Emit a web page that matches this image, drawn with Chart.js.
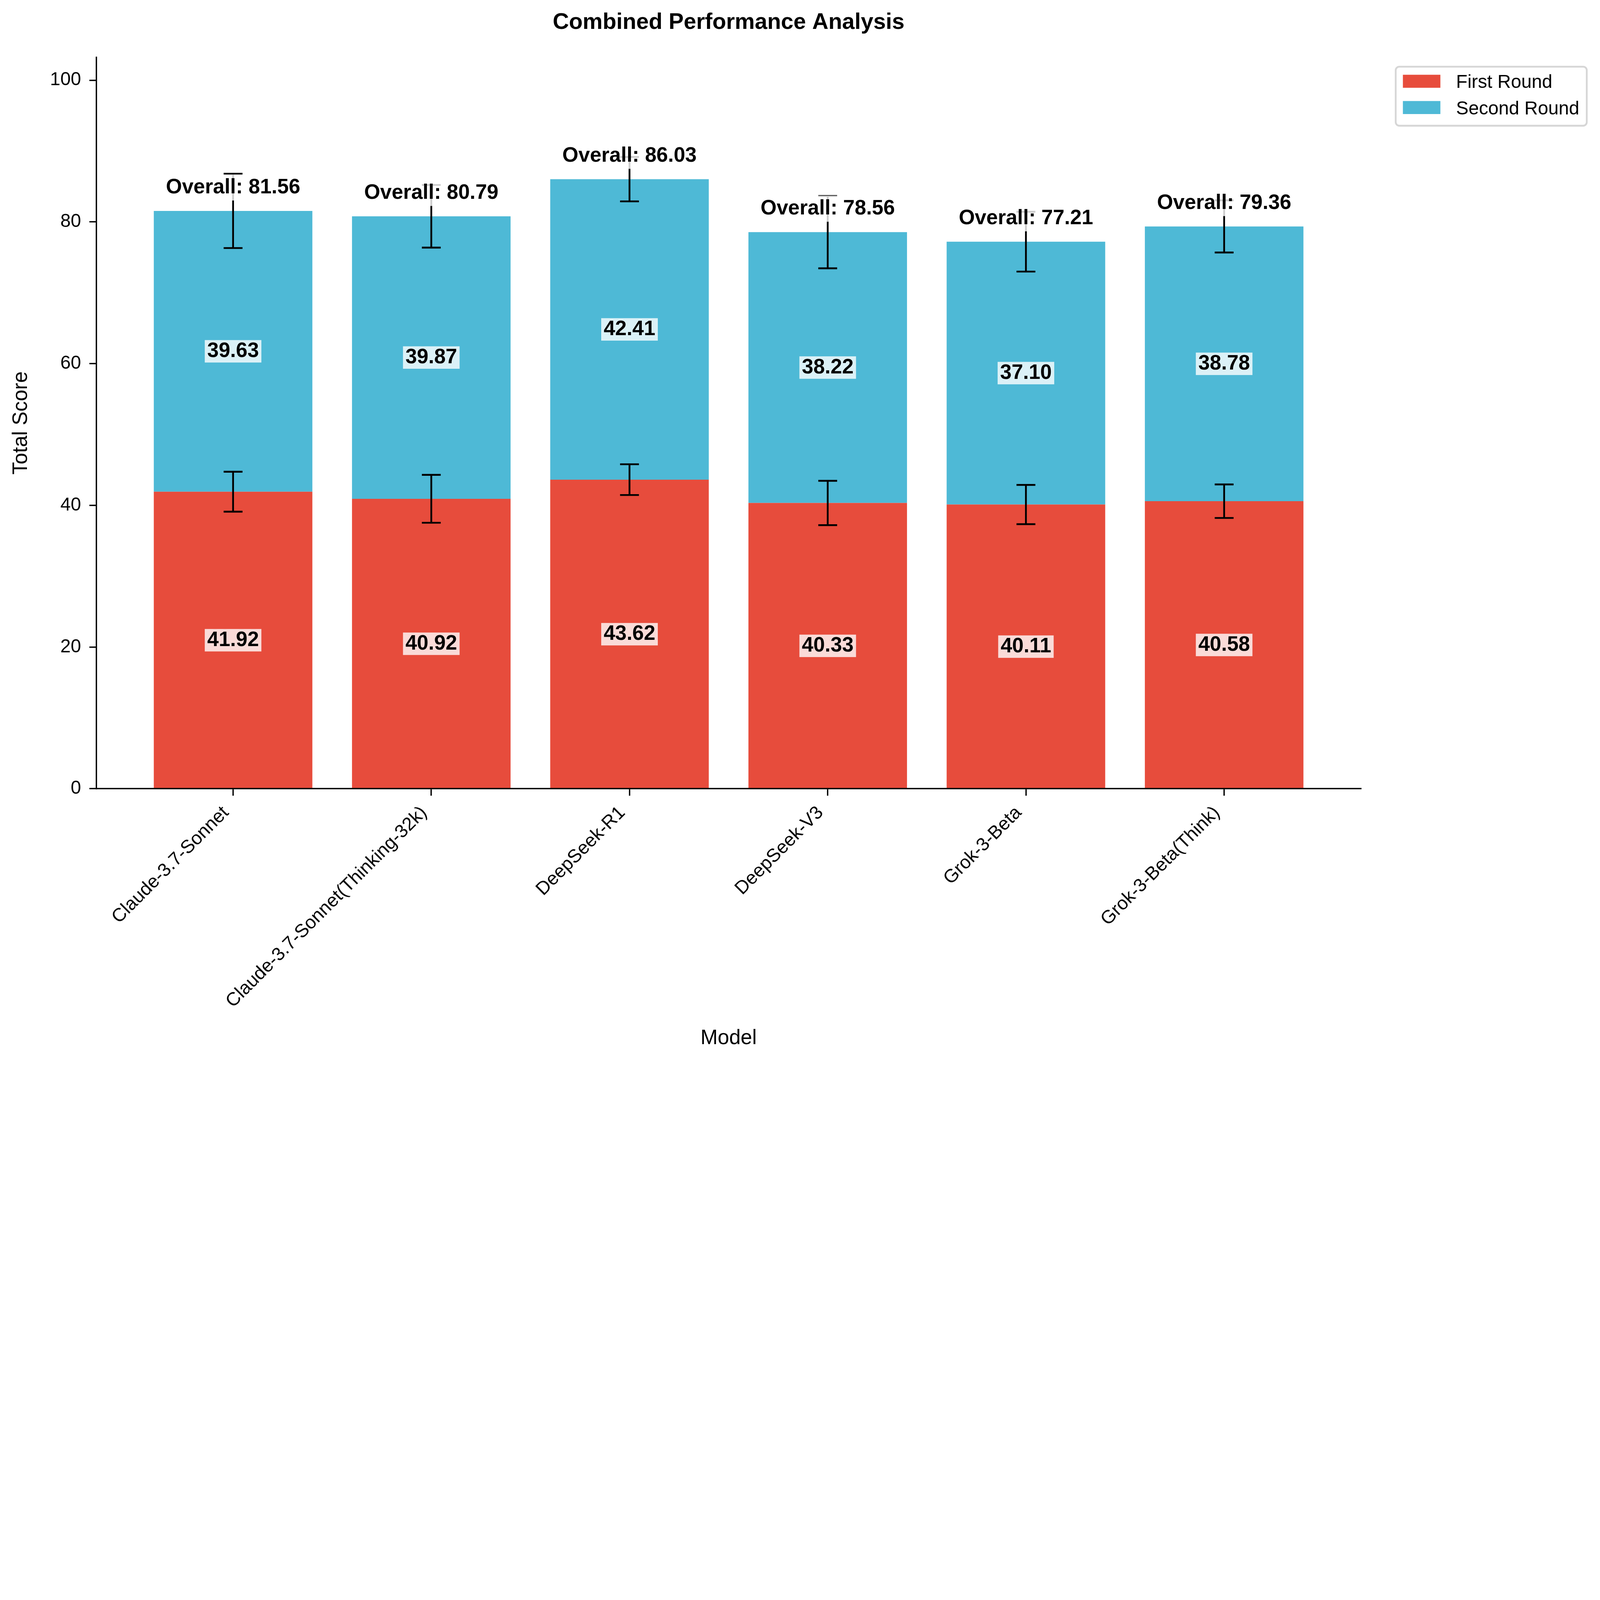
<!DOCTYPE html>
<html><head><meta charset="utf-8">
<script src="https://cdn.jsdelivr.net/npm/chart.js@4.4.1/dist/chart.umd.min.js"></script>
<style>html,body{margin:0;padding:0;background:#fff;overflow:hidden}canvas{display:block}</style>
</head><body>
<canvas id="c"></canvas>
<script>
// ---- data ----
const models = ['Claude-3.7-Sonnet', 'Claude-3.7-Sonnet(Thinking-32k)', 'DeepSeek-R1', 'DeepSeek-V3', 'Grok-3-Beta', 'Grok-3-Beta(Think)'];
const firstRound = [41.92, 40.92, 43.62, 40.33, 40.11, 40.58];
const secondRound = [39.63, 39.87, 42.41, 38.22, 37.10, 38.78];
const overallScore = [81.56, 80.79, 86.03, 78.56, 77.21, 79.36];
const firstErr = [2.82, 3.38, 2.17, 3.13, 2.77, 2.37];
const secondErr = [5.24, 4.42, 3.13, 5.10, 4.22, 3.68];
const seriesNames = ['First Round', 'Second Round'];
const yTicks = [0, 20, 40, 60, 80, 100];
const yMax = 103.236;
const xMin = -0.69, xMax = 5.69;

const RED = '#E74C3C', BLUE = '#4EB9D6';
const FONT = "'Liberation Sans', Arial, Helvetica, sans-serif";

const REF_W = 7127, REF_H = 4729;
const vw = window.innerWidth || REF_W, vh = window.innerHeight || REF_H;
const S = Math.min(vw / REF_W, vh / REF_H);
const k = (v) => v * S;
const cv = document.getElementById('c');
cv.width = Math.round(REF_W * S);
cv.height = Math.round(REF_H * S);

const overlay = {
  id: 'overlay',
  afterDatasetsDraw(chart) {
    const {ctx, scales: {x, y}} = chart;
    ctx.save();
    ctx.strokeStyle = '#000';
    ctx.lineWidth = k(8);
    ctx.lineCap = 'butt';
    const cap = k(42);
    const eb = (px, v, e) => {
      const t = y.getPixelForValue(v + e), b = y.getPixelForValue(v - e);
      ctx.beginPath();
      ctx.moveTo(px, t); ctx.lineTo(px, b);
      ctx.moveTo(px - cap, t); ctx.lineTo(px + cap, t);
      ctx.moveTo(px - cap, b); ctx.lineTo(px + cap, b);
      ctx.stroke();
    };
    models.forEach((m, i) => {
      const px = x.getPixelForValue(i);
      eb(px, firstRound[i], firstErr[i]);
      eb(px, firstRound[i] + secondRound[i], secondErr[i]);
    });
    ctx.font = 'bold ' + k(92) + 'px ' + FONT;
    ctx.textAlign = 'center';
    ctx.textBaseline = 'alphabetic';
    const valueLabel = (txt, px, py) => {
      const w = ctx.measureText(txt).width;
      ctx.fillStyle = 'rgba(255,255,255,0.8)';
      ctx.fillRect(px - w / 2 - k(11), py - k(50), w + k(22), k(100));
      ctx.fillStyle = '#000';
      ctx.fillText(txt, px, py + k(26));
    };
    models.forEach((m, i) => {
      const px = x.getPixelForValue(i);
      valueLabel(firstRound[i].toFixed(2), px, y.getPixelForValue(firstRound[i] / 2));
      valueLabel(secondRound[i].toFixed(2), px, y.getPixelForValue(firstRound[i] + secondRound[i] / 2));
      const txt = 'Overall: ' + overallScore[i].toFixed(2);
      const w = ctx.measureText(txt).width;
      const base = y.getPixelForValue(overallScore[i]) - k(78);
      ctx.fillStyle = 'rgba(255,255,255,0.8)';
      ctx.fillRect(px - w / 2 - k(16), base - k(84), w + k(32), k(116));
      ctx.fillStyle = '#000';
      ctx.fillText(txt, px, base);
    });
    ctx.restore();
  },
  afterDraw(chart) {
    const {ctx, chartArea} = chart;
    ctx.save();
    const L = chartArea.right + k(155), T = k(297), W = k(851), H = k(263);
    ctx.beginPath();
    ctx.roundRect(L, T, W, H, k(16));
    ctx.fillStyle = 'rgba(255,255,255,0.8)';
    ctx.fill();
    ctx.lineWidth = k(8);
    ctx.strokeStyle = '#d6d6d6';
    ctx.stroke();
    const cols = [RED, BLUE];
    ctx.font = k(83) + 'px ' + FONT;
    ctx.textAlign = 'left';
    ctx.textBaseline = 'alphabetic';
    seriesNames.forEach((n, j) => {
      const py = k(333) + j * k(117);
      ctx.fillStyle = cols[j];
      ctx.fillRect(L + k(32), py, k(167), k(58));
      ctx.fillStyle = '#000';
      ctx.fillText(n, L + k(269), py + k(59));
    });
    ctx.restore();
  }
};

const tickFont = {family: FONT, size: k(83)};
new Chart(cv, {
  type: 'bar',
  data: {
    datasets: [
      {label: seriesNames[0], data: firstRound.map((v, i) => ({x: i, y: v})), backgroundColor: RED, borderWidth: 0},
      {label: seriesNames[1], data: secondRound.map((v, i) => ({x: i, y: v})), backgroundColor: BLUE, borderWidth: 0}
    ]
  },
  options: {
    responsive: false,
    animation: false,
    events: [],
    barPercentage: 0.8,
    categoryPercentage: 1.0,
    layout: {padding: {left: 0, right: k(1065), top: 0, bottom: 0}},
    plugins: {
      legend: {display: false},
      tooltip: {enabled: false},
      title: {
        display: true, text: 'Combined Performance Analysis', color: '#000', fullSize: false,
        font: {family: FONT, size: k(100), weight: 'bold'}, padding: {top: k(42), bottom: k(93)}
      }
    },
    scales: {
      x: {
        type: 'linear', min: xMin, max: xMax, stacked: true, offset: false,
        afterBuildTicks: (s) => { s.ticks = models.map((m, i) => ({value: i})); },
        afterFit: (s) => { s.height = k(REF_H - 3513); },
        ticks: {
          callback: (v) => models[v], autoSkip: false, maxRotation: 45, minRotation: 45,
          color: '#000', font: tickFont, padding: k(28), labelOffset: k(-32)
        },
        grid: {display: true, drawOnChartArea: false, drawTicks: true, tickLength: k(31), lineWidth: k(6), color: '#000', offset: false},
        border: {display: true, color: '#000', width: k(6), z: 1},
        title: {display: true, text: 'Model', color: '#000', font: {family: FONT, size: k(92)}, padding: {top: 0, bottom: k(48)}}
      },
      y: {
        type: 'linear', min: 0, max: yMax, stacked: true,
        afterBuildTicks: (s) => { s.ticks = yTicks.map(v => ({value: v})); },
        afterFit: (s) => { s.width = k(429); },
        ticks: {color: '#000', font: tickFont, padding: k(37)},
        grid: {display: true, drawOnChartArea: false, drawTicks: true, tickLength: k(31), lineWidth: k(6), color: '#000'},
        border: {display: true, color: '#000', width: k(6), z: 1},
        title: {display: true, text: 'Total Score', color: '#000', font: {family: FONT, size: k(92)}, padding: {top: k(39), bottom: 0}}
      }
    }
  },
  plugins: [overlay]
});
</script>
</body></html>
